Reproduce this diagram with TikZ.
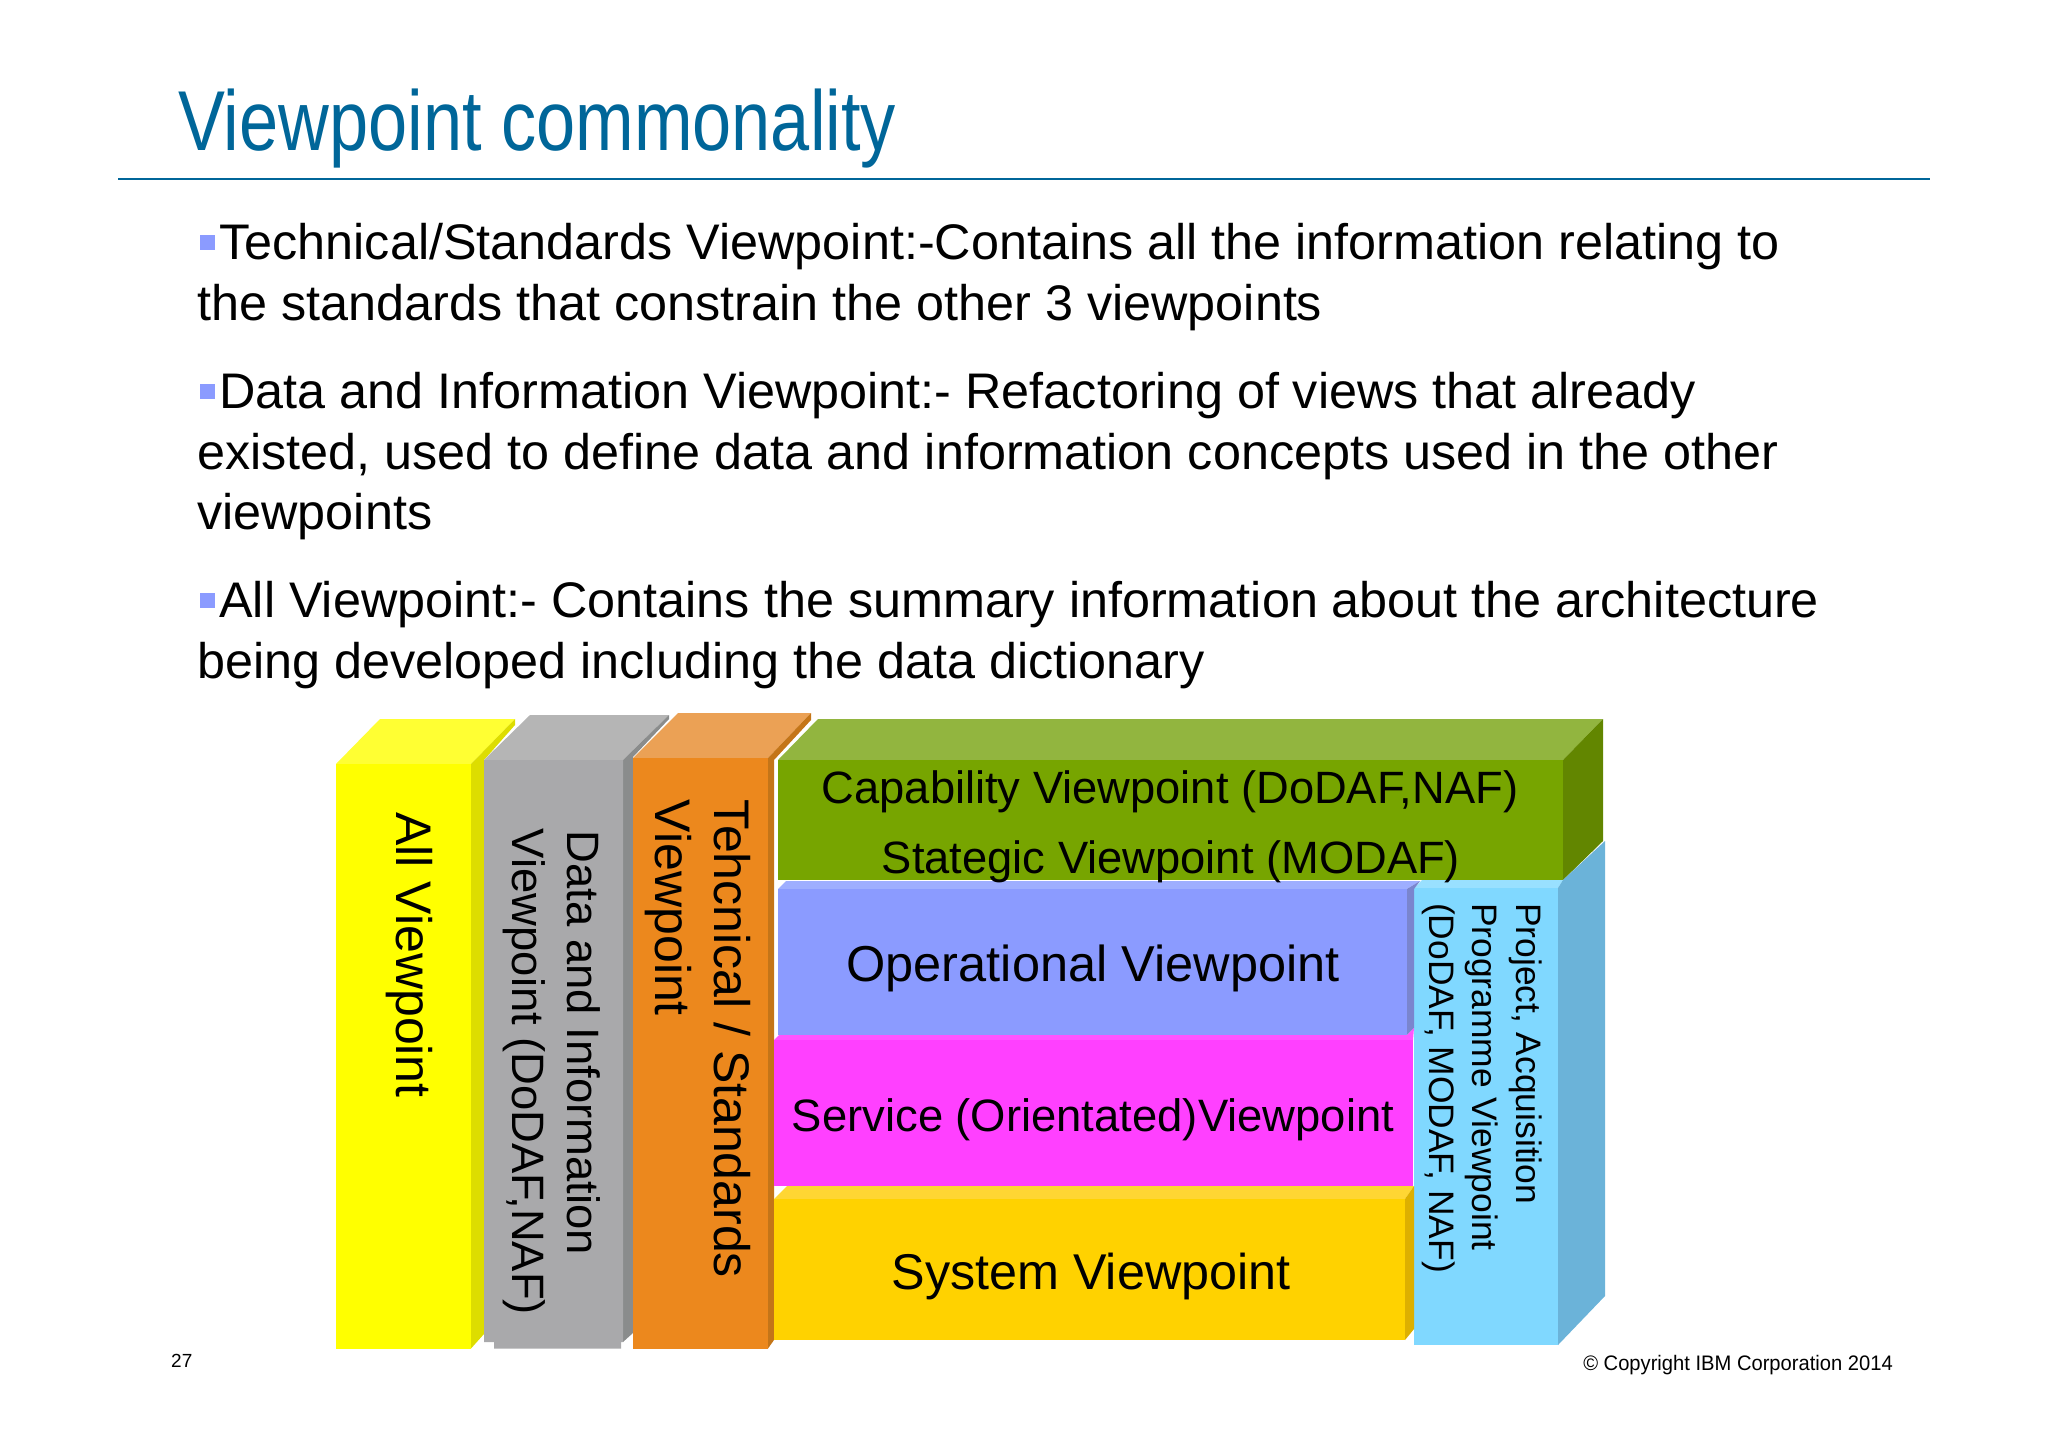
\documentclass[tikz,border=0pt]{standalone}
\usepackage{fontspec}
\usepackage{tikz}
\setmainfont{Liberation Sans}
\definecolor{titleblue}{HTML}{006699}
\definecolor{bulletblue}{HTML}{8B9BFF}
\definecolor{alltop}{HTML}{FFFF33}
\definecolor{allside}{HTML}{DDDD00}
\definecolor{allfront}{HTML}{FFFF00}
\definecolor{datatop}{HTML}{B5B5B5}
\definecolor{dataside}{HTML}{8A8C8C}
\definecolor{datafront}{HTML}{A9A9AB}
\definecolor{techtop}{HTML}{EBA155}
\definecolor{techside}{HTML}{C47518}
\definecolor{techfront}{HTML}{EC881D}
\definecolor{captop}{HTML}{92B53F}
\definecolor{capside}{HTML}{628600}
\definecolor{capfront}{HTML}{77A500}
\definecolor{projtop}{HTML}{99E0FF}
\definecolor{projside}{HTML}{6BB3D9}
\definecolor{projfront}{HTML}{80D8FF}
\definecolor{optop}{HTML}{9EAEFF}
\definecolor{opside}{HTML}{7A85CE}
\definecolor{opfront}{HTML}{8B9BFF}
\definecolor{servtop}{HTML}{FF55FF}
\definecolor{servfront}{HTML}{FF40FF}
\definecolor{systop}{HTML}{FFD633}
\definecolor{sysside}{HTML}{DDB000}
\definecolor{sysfront}{HTML}{FFD200}
\tikzset{
  bodytext/.style={anchor=north west,inner sep=0pt,align=left,font=\fontsize{50}{60.6}\selectfont,xscale=1.007},
  boxtext/.style={inner sep=0pt,align=center,font=\fontsize{50}{58}\selectfont},
  sidetext/.style={boxtext,rotate=-90},
}
\newcommand{\squarebullet}{\hspace{3pt}\textcolor{bulletblue}{\rule[9pt]{15pt}{15pt}}\hspace{4pt}}

\begin{document}
\begin{tikzpicture}[x=1pt,y=-1pt]
  \useasboundingbox (0,0) rectangle (2048,1447);

  \node[anchor=base west,inner sep=0pt,text=titleblue,font=\fontsize{85}{85}\selectfont,xscale=.8275] (title) at (178,151) {Viewpoint commonality};
  \draw[titleblue,line width=1.6pt] (118,179)--(1930,179); %title rule

  \node[bodytext] (technical) at (197,223) {\squarebullet Technical/Standards Viewpoint:-Contains all the information relating to\\the standards that constrain the other 3 viewpoints};
  \node[bodytext] (data) at (197,372) {\squarebullet Data and Information Viewpoint:- Refactoring of views that already\\existed, used to define data and information concepts used in the other\\viewpoints};
  \node[bodytext] (all) at (197,581) {\squarebullet All Viewpoint:- Contains the summary information about the architecture\\being developed including the data dictionary};

  %All
  \fill[alltop] (336,764)--(380,719)--(515,719)--(471,764)--cycle;
  \fill[allside] (471,764)--(515,719)--(515,725)--(484,760)--(484,1334)--(471,1348.5)--cycle;
  \fill[allfront] (336,764) rectangle (471,1348.5);
  \node[sidetext] (allview) at (409,955) {All Viewpoint};

  %Data and Information
  \fill[datatop] (484,760)--(530,715)--(669,715)--(623,760)--cycle;
  \fill[dataside] (623,760)--(669,715)--(669,719)--(633,757)--(633,1333)--(623,1342)--cycle;
  \fill[datafront] (484,760)--(623,760)--(623,1342)--(621,1342)--(621,1348.5)--(494,1348.5)--(494,1342)--(484,1342)--cycle;
  \node[sidetext,align=left,font=\fontsize{45.4}{55}\selectfont] (dataview) at (552,1072) {\hspace*{2pt}Data and Information\\Viewpoint (DoDAF,NAF)};

  %Technical
  \fill[techtop] (633,758)--(678,713)--(811,713)--(768,758)--cycle;
  \fill[techside] (768,758)--(811,713)--(811,720)--(774,760)--(774,1340)--(768,1348.5)--cycle;
  \fill[techfront] (633,758) rectangle (768,1348.5);
  \node[sidetext,align=left,font=\fontsize{50}{59}\selectfont] (techview) at (698,1039) {Tehcnical / Standards\\Viewpoint};

  %Capability
  \fill[captop] (778,760)--(818,719)--(1603,719)--(1563,760)--cycle;
  \fill[capside] (1563,760)--(1603,719)--(1603,841)--(1563,880)--cycle;
  \fill[capfront] (778,760) rectangle (1563,880);

  %Project
  \fill[projtop] (1414,888)--(1422,880)--(1563,880)--(1558,888)--cycle;
  \fill[projside] (1558,888)--(1563,880)--(1605,841)--(1605,1296)--(1558,1345)--cycle;
  \fill[projfront] (1414,888) rectangle (1558,1345);
  \node[sidetext,align=left,font=\fontsize{35.4}{43.5}\selectfont] (projectview) at (1482,1088) {Project, Acquisition\\Programme Viewpoint\\(DoDAF, MODAF, NAF)};

  %Operational
  \fill[optop] (778,889)--(786,881)--(1420,881)--(1407,889)--cycle;
  \fill[opside] (1407,889)--(1420,881)--(1414,889)--(1414,1028)--(1407,1035)--cycle;
  \fill[opfront] (778,889) rectangle (1407,1035);
  \node[boxtext,font=\fontsize{50.5}{58}\selectfont] (opview) at (1093,968.5) {Operational Viewpoint};

  %Service
  \fill[servtop] (774,1040)--(779,1035)--(1407,1035)--(1414,1028)--(1413,1040)--cycle;
  \fill[servfront] (774,1040) rectangle (1413,1185.5);
  \node[boxtext,font=\fontsize{45.4}{58}\selectfont] (serviceview) at (1093,1119.5) {Service (Orientated)Viewpoint};

  %System
  \fill[systop] (774,1199)--(787,1186)--(1414,1186)--(1405,1199)--cycle;
  \fill[sysside] (1405,1199)--(1414,1186)--(1414,1329)--(1405,1340)--cycle;
  \fill[sysfront] (774,1199) rectangle (1405,1340);
  \node[boxtext,font=\fontsize{50.3}{58}\selectfont] (sysview) at (1091,1276) {System Viewpoint};

  \node[boxtext,anchor=base,font=\fontsize{45.3}{46}\selectfont] (capview) at (1170,803) {Capability Viewpoint (DoDAF,NAF)};
  \node[boxtext,anchor=base,font=\fontsize{45.3}{46}\selectfont] (stratview) at (1171,873) {Stategic Viewpoint (MODAF)};

  \node[anchor=base west,inner sep=0pt,font=\fontsize{19}{19}\selectfont] (pagenum) at (171,1367.5) {27};
  \node[anchor=base east,inner sep=0pt,font=\fontsize{21}{21}\selectfont,xscale=.96] (copyright) at (1893,1370.5) {© Copyright IBM Corporation 2014};
\end{tikzpicture}
\end{document}
